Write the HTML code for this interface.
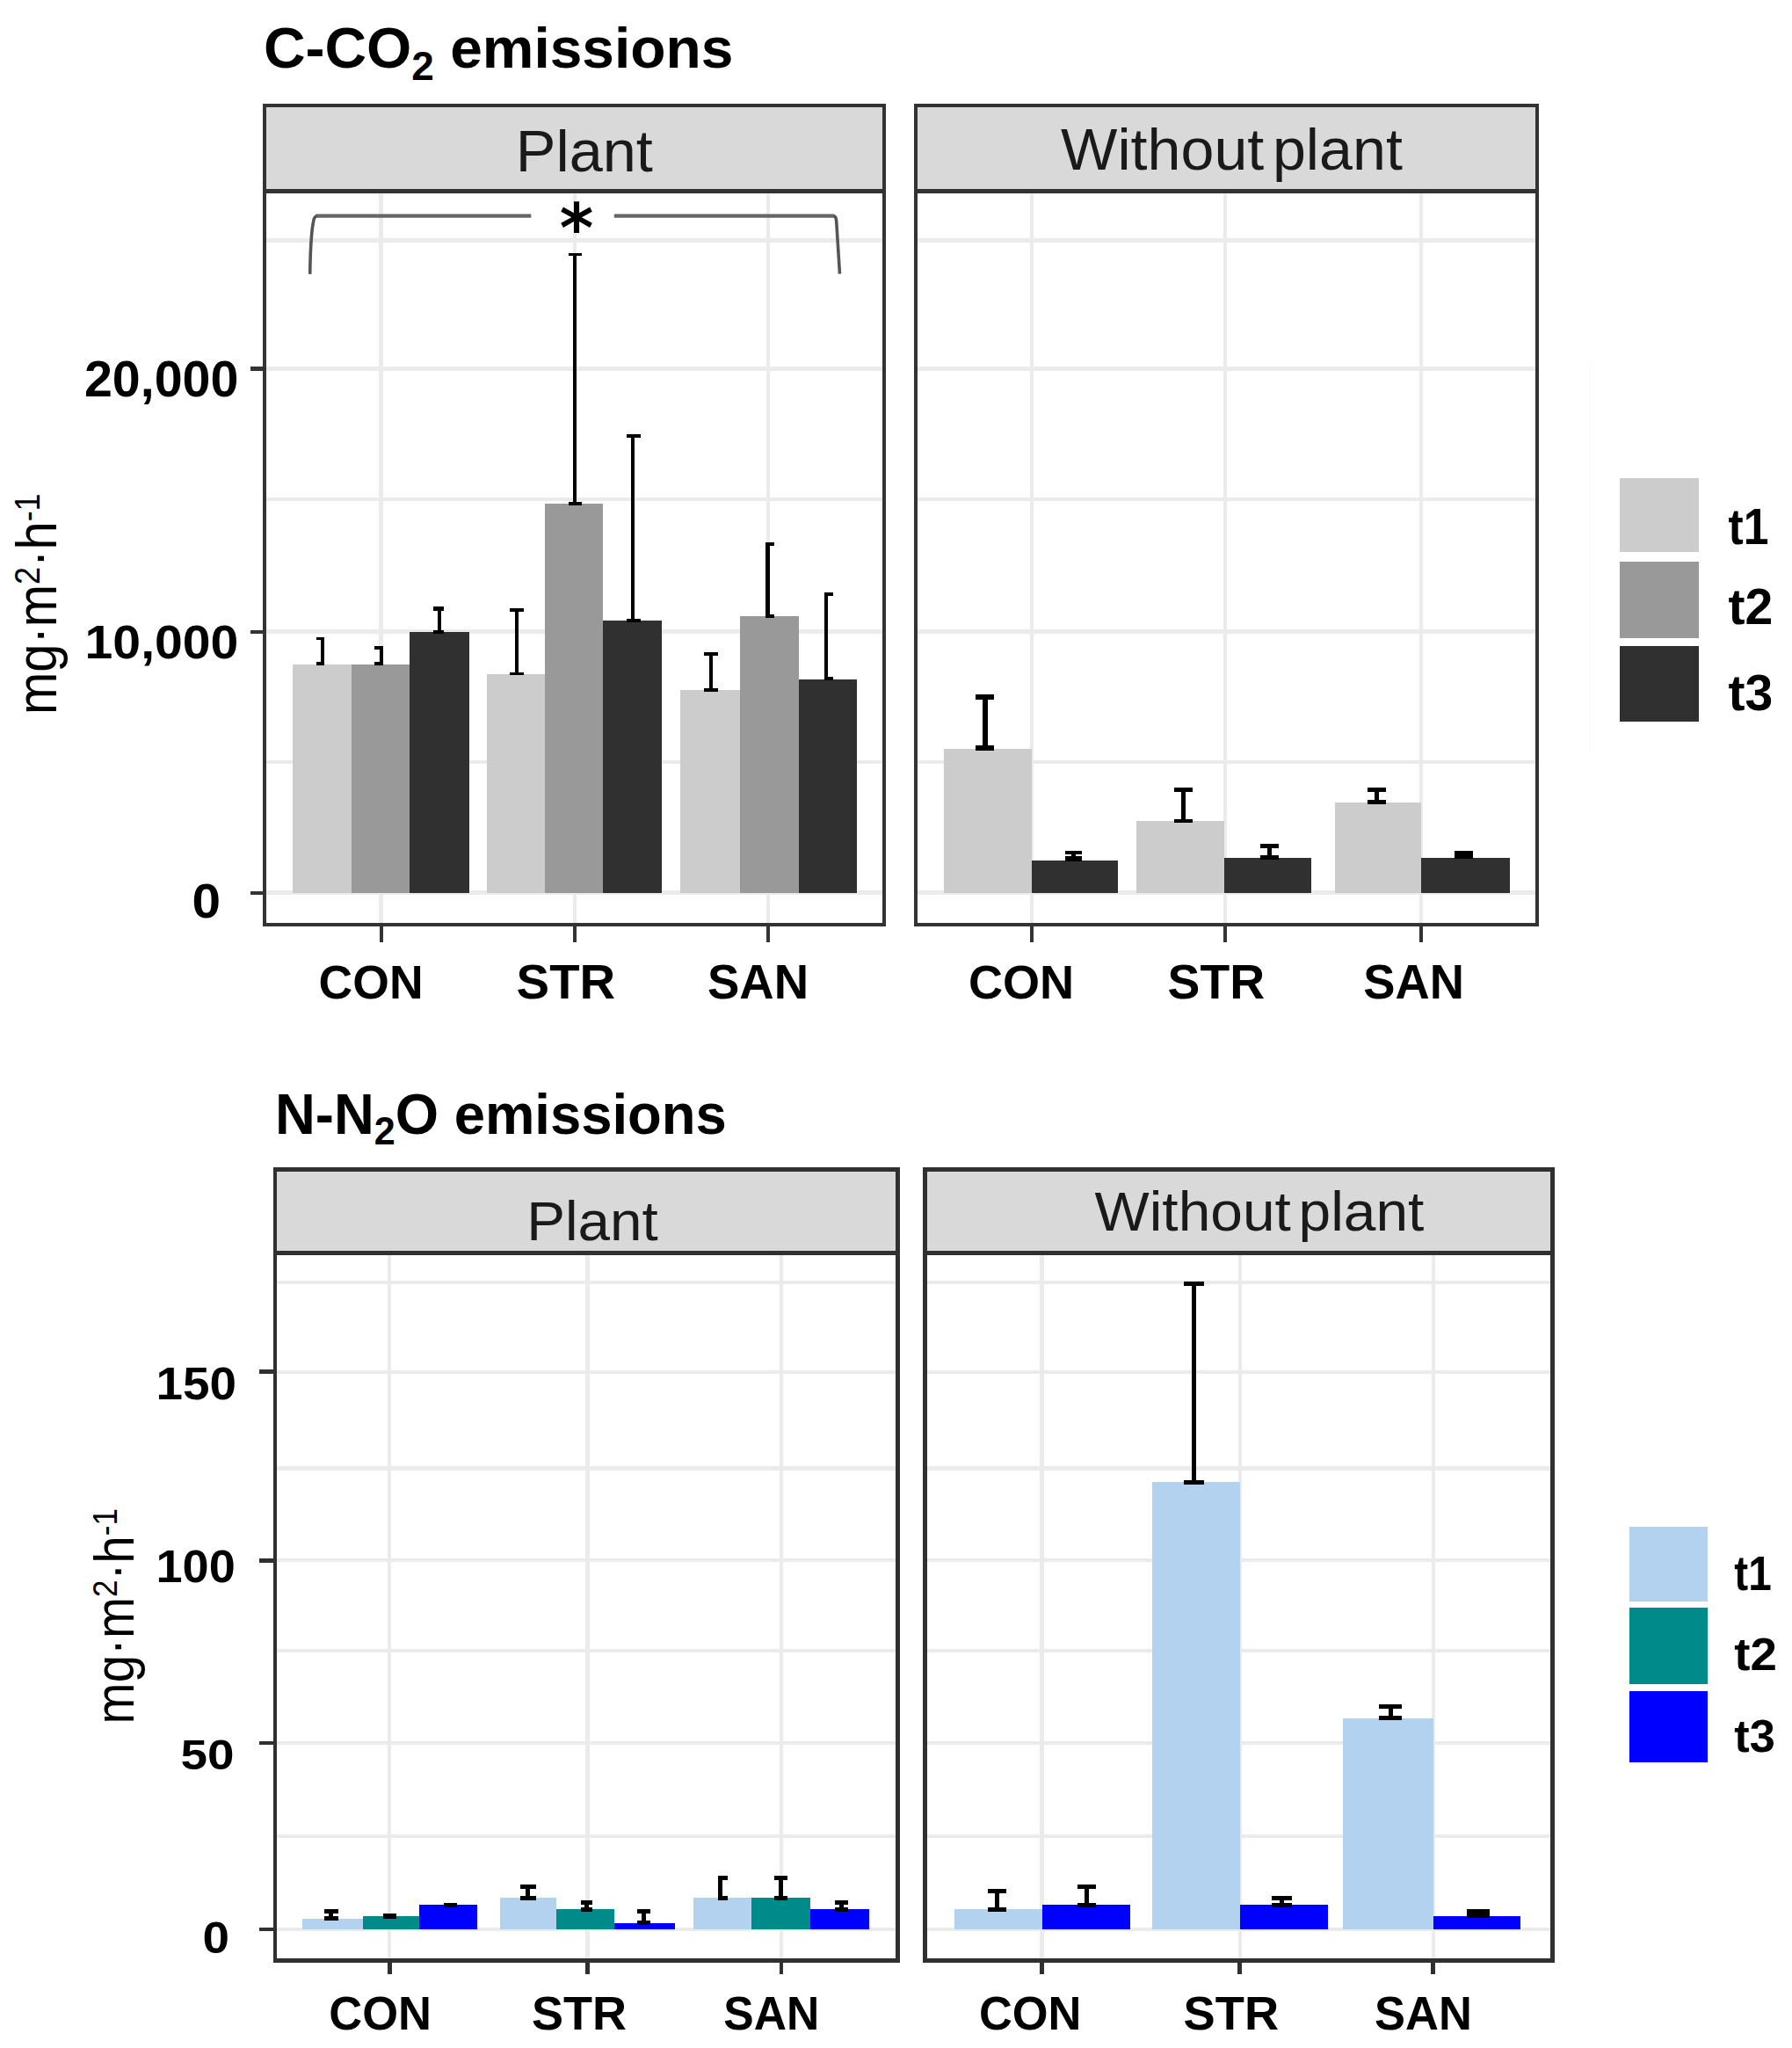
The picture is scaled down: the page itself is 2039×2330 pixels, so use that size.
<!DOCTYPE html>
<html><head><meta charset="utf-8"><title>C-CO2 and N-N2O emissions</title>
<style>
html,body{margin:0;padding:0;background:#fff;}
body{width:2039px;height:2330px;overflow:hidden;}
svg{display:block;}

</style></head>
<body>
<svg width="2039" height="2330" viewBox="0 0 2039 2330" shape-rendering="crispEdges">
<rect x="0" y="0" width="2039" height="2330" fill="#fff"/>
<g id="shapes">
<line x1="301.20" y1="273.60" x2="1006.20" y2="273.60" stroke="#EBEBEB" stroke-width="4.4"/>
<line x1="301.20" y1="419.50" x2="1006.20" y2="419.50" stroke="#EBEBEB" stroke-width="4.4"/>
<line x1="301.20" y1="568.00" x2="1006.20" y2="568.00" stroke="#EBEBEB" stroke-width="4.4"/>
<line x1="301.20" y1="718.50" x2="1006.20" y2="718.50" stroke="#EBEBEB" stroke-width="4.4"/>
<line x1="301.20" y1="867.20" x2="1006.20" y2="867.20" stroke="#EBEBEB" stroke-width="4.4"/>
<line x1="301.20" y1="1015.60" x2="1006.20" y2="1015.60" stroke="#EBEBEB" stroke-width="4.4"/>
<line x1="433.60" y1="217.50" x2="433.60" y2="1051.80" stroke="#EBEBEB" stroke-width="4.4"/>
<line x1="654.00" y1="217.50" x2="654.00" y2="1051.80" stroke="#EBEBEB" stroke-width="4.4"/>
<line x1="874.20" y1="217.50" x2="874.20" y2="1051.80" stroke="#EBEBEB" stroke-width="4.4"/>
<line x1="1042.20" y1="273.60" x2="1749.30" y2="273.60" stroke="#EBEBEB" stroke-width="4.4"/>
<line x1="1042.20" y1="419.50" x2="1749.30" y2="419.50" stroke="#EBEBEB" stroke-width="4.4"/>
<line x1="1042.20" y1="568.00" x2="1749.30" y2="568.00" stroke="#EBEBEB" stroke-width="4.4"/>
<line x1="1042.20" y1="718.50" x2="1749.30" y2="718.50" stroke="#EBEBEB" stroke-width="4.4"/>
<line x1="1042.20" y1="867.20" x2="1749.30" y2="867.20" stroke="#EBEBEB" stroke-width="4.4"/>
<line x1="1042.20" y1="1015.60" x2="1749.30" y2="1015.60" stroke="#EBEBEB" stroke-width="4.4"/>
<line x1="1174.00" y1="217.50" x2="1174.00" y2="1051.80" stroke="#EBEBEB" stroke-width="4.4"/>
<line x1="1394.00" y1="217.50" x2="1394.00" y2="1051.80" stroke="#EBEBEB" stroke-width="4.4"/>
<line x1="1617.20" y1="217.50" x2="1617.20" y2="1051.80" stroke="#EBEBEB" stroke-width="4.4"/>
<rect x="333.40" y="756.30" width="66.20" height="259.30" fill="#CCCCCC"/>
<rect x="399.60" y="756.30" width="66.40" height="259.30" fill="#999999"/>
<rect x="466.00" y="718.80" width="68.00" height="296.80" fill="#303030"/>
<rect x="554.10" y="767.00" width="65.70" height="248.60" fill="#CCCCCC"/>
<rect x="619.80" y="573.20" width="66.20" height="442.40" fill="#999999"/>
<rect x="686.00" y="705.90" width="66.60" height="309.70" fill="#303030"/>
<rect x="773.60" y="785.20" width="68.80" height="230.40" fill="#CCCCCC"/>
<rect x="842.40" y="701.00" width="66.40" height="314.60" fill="#999999"/>
<rect x="908.80" y="772.60" width="66.20" height="243.00" fill="#303030"/>
<rect x="1073.50" y="851.50" width="100.10" height="164.10" fill="#CCCCCC"/>
<rect x="1173.60" y="978.80" width="98.40" height="36.80" fill="#303030"/>
<rect x="1293.30" y="934.10" width="100.10" height="81.50" fill="#CCCCCC"/>
<rect x="1393.40" y="976.20" width="99.00" height="39.40" fill="#303030"/>
<rect x="1518.90" y="913.00" width="97.70" height="102.60" fill="#CCCCCC"/>
<rect x="1616.60" y="976.20" width="101.00" height="39.40" fill="#303030"/>
<rect x="364.80" y="724.60" width="4.00" height="32.00" fill="#000"/><rect x="359.80" y="724.60" width="9.00" height="3.60" fill="#000"/><rect x="359.80" y="752.60" width="9.00" height="4.00" fill="#000"/>
<rect x="431.60" y="734.80" width="4.00" height="21.80" fill="#000"/><rect x="426.20" y="734.80" width="9.40" height="3.80" fill="#000"/><rect x="426.20" y="752.60" width="9.40" height="4.00" fill="#000"/>
<rect x="497.80" y="690.20" width="4.20" height="30.40" fill="#000"/><rect x="492.80" y="690.20" width="11.80" height="4.60" fill="#000"/><rect x="492.80" y="716.80" width="11.80" height="3.80" fill="#000"/>
<rect x="586.00" y="692.40" width="3.80" height="76.00" fill="#000"/><rect x="580.00" y="692.40" width="16.00" height="4.00" fill="#000"/><rect x="580.00" y="764.60" width="16.00" height="3.80" fill="#000"/>
<rect x="651.60" y="287.60" width="4.80" height="287.20" fill="#000"/><rect x="646.60" y="287.60" width="15.80" height="3.80" fill="#000"/><rect x="646.60" y="570.80" width="15.80" height="4.00" fill="#000"/>
<rect x="717.60" y="494.20" width="4.60" height="213.60" fill="#000"/><rect x="712.60" y="494.20" width="16.20" height="3.80" fill="#000"/><rect x="712.60" y="703.80" width="16.20" height="4.00" fill="#000"/>
<rect x="806.60" y="742.00" width="4.40" height="45.00" fill="#000"/><rect x="801.00" y="742.00" width="16.20" height="4.00" fill="#000"/><rect x="801.00" y="783.00" width="16.20" height="4.00" fill="#000"/>
<rect x="871.40" y="617.00" width="4.40" height="86.00" fill="#000"/><rect x="871.40" y="617.00" width="9.80" height="4.20" fill="#000"/><rect x="871.40" y="698.80" width="9.80" height="4.20" fill="#000"/>
<rect x="937.80" y="674.20" width="4.20" height="100.20" fill="#000"/><rect x="937.80" y="674.20" width="9.80" height="3.60" fill="#000"/><rect x="937.80" y="770.40" width="9.80" height="4.00" fill="#000"/>
<rect x="1118.40" y="790.40" width="5.60" height="63.20" fill="#000"/><rect x="1109.80" y="790.40" width="21.60" height="5.20" fill="#000"/><rect x="1109.80" y="848.40" width="21.60" height="5.20" fill="#000"/>
<rect x="1219.00" y="967.80" width="5.00" height="11.80" fill="#000"/><rect x="1211.60" y="967.80" width="19.80" height="3.80" fill="#000"/><rect x="1211.60" y="974.20" width="19.80" height="5.40" fill="#000"/>
<rect x="1344.00" y="896.40" width="5.00" height="39.80" fill="#000"/><rect x="1336.00" y="896.40" width="21.00" height="4.60" fill="#000"/><rect x="1336.00" y="932.00" width="21.00" height="4.20" fill="#000"/>
<rect x="1442.20" y="959.80" width="5.00" height="17.80" fill="#000"/><rect x="1434.20" y="959.80" width="21.00" height="5.00" fill="#000"/><rect x="1434.20" y="973.40" width="21.00" height="4.20" fill="#000"/>
<rect x="1564.20" y="896.20" width="5.00" height="18.80" fill="#000"/><rect x="1556.20" y="896.20" width="20.80" height="5.00" fill="#000"/><rect x="1556.20" y="910.00" width="20.80" height="5.00" fill="#000"/>
<rect x="1662.00" y="968.20" width="6.00" height="8.40" fill="#000"/><rect x="1654.80" y="968.20" width="20.80" height="4.40" fill="#000"/><rect x="1654.80" y="972.40" width="20.80" height="4.20" fill="#000"/>
<g shape-rendering="auto" fill="none" stroke-linejoin="miter"><path d="M359.5,245.6 L604.3,245.6 M698.8,245.6 L949.2,245.6" stroke="#666" stroke-width="4.4"/><path d="M352.7,311.9 C353.1,285 354.6,262 356.6,252 Q357.6,246.2 360.5,245.8" stroke="#555" stroke-width="3.6"/><path d="M948.5,245.8 Q951.2,246.2 951.6,250.5 L955.5,311.6" stroke="#555" stroke-width="3.6"/></g>
<rect x="301.20" y="120.30" width="705.00" height="97.20" fill="#D9D9D9"/>
<rect x="1042.20" y="120.30" width="707.10" height="97.20" fill="#D9D9D9"/>
<rect x="301.2" y="120.3" width="705.00" height="97.20" fill="none" stroke="#333333" stroke-width="4.2"/>
<rect x="301.2" y="217.5" width="705.00" height="834.30" fill="none" stroke="#333333" stroke-width="4.2"/>
<rect x="1042.2" y="120.3" width="707.10" height="97.20" fill="none" stroke="#333333" stroke-width="4.2"/>
<rect x="1042.2" y="217.5" width="707.10" height="834.30" fill="none" stroke="#333333" stroke-width="4.2"/>
<line x1="285.20" y1="419.50" x2="301.20" y2="419.50" stroke="#333333" stroke-width="4.2"/>
<line x1="285.20" y1="718.80" x2="301.20" y2="718.80" stroke="#333333" stroke-width="4.2"/>
<line x1="285.20" y1="1015.60" x2="301.20" y2="1015.60" stroke="#333333" stroke-width="4.2"/>
<line x1="433.60" y1="1051.80" x2="433.60" y2="1071.60" stroke="#333333" stroke-width="4.2"/>
<line x1="654.00" y1="1051.80" x2="654.00" y2="1071.60" stroke="#333333" stroke-width="4.2"/>
<line x1="874.20" y1="1051.80" x2="874.20" y2="1071.60" stroke="#333333" stroke-width="4.2"/>
<line x1="1174.00" y1="1051.80" x2="1174.00" y2="1071.60" stroke="#333333" stroke-width="4.2"/>
<line x1="1394.00" y1="1051.80" x2="1394.00" y2="1071.60" stroke="#333333" stroke-width="4.2"/>
<line x1="1617.20" y1="1051.80" x2="1617.20" y2="1071.60" stroke="#333333" stroke-width="4.2"/>
<line x1="1808.50" y1="414.00" x2="1808.50" y2="854.00" stroke="#F8F8F8" stroke-width="1.5"/>
<rect x="1842.80" y="544.10" width="90.00" height="83.70" fill="#CCCCCC"/>
<rect x="1842.80" y="639.00" width="90.00" height="87.20" fill="#999999"/>
<rect x="1842.80" y="734.70" width="90.00" height="86.00" fill="#303030"/>
<line x1="312.90" y1="1458.70" x2="1021.70" y2="1458.70" stroke="#EBEBEB" stroke-width="4.2"/>
<line x1="312.90" y1="1560.60" x2="1021.70" y2="1560.60" stroke="#EBEBEB" stroke-width="4.2"/>
<line x1="312.90" y1="1670.50" x2="1021.70" y2="1670.50" stroke="#EBEBEB" stroke-width="4.2"/>
<line x1="312.90" y1="1775.20" x2="1021.70" y2="1775.20" stroke="#EBEBEB" stroke-width="4.2"/>
<line x1="312.90" y1="1877.70" x2="1021.70" y2="1877.70" stroke="#EBEBEB" stroke-width="4.2"/>
<line x1="312.90" y1="1983.00" x2="1021.70" y2="1983.00" stroke="#EBEBEB" stroke-width="4.2"/>
<line x1="312.90" y1="2089.30" x2="1021.70" y2="2089.30" stroke="#EBEBEB" stroke-width="4.2"/>
<line x1="312.90" y1="2195.00" x2="1021.70" y2="2195.00" stroke="#EBEBEB" stroke-width="4.2"/>
<line x1="443.30" y1="1425.30" x2="443.30" y2="2230.70" stroke="#EBEBEB" stroke-width="4.2"/>
<line x1="668.40" y1="1425.30" x2="668.40" y2="2230.70" stroke="#EBEBEB" stroke-width="4.2"/>
<line x1="888.80" y1="1425.30" x2="888.80" y2="2230.70" stroke="#EBEBEB" stroke-width="4.2"/>
<line x1="1052.50" y1="1458.70" x2="1766.50" y2="1458.70" stroke="#EBEBEB" stroke-width="4.2"/>
<line x1="1052.50" y1="1560.60" x2="1766.50" y2="1560.60" stroke="#EBEBEB" stroke-width="4.2"/>
<line x1="1052.50" y1="1670.50" x2="1766.50" y2="1670.50" stroke="#EBEBEB" stroke-width="4.2"/>
<line x1="1052.50" y1="1775.20" x2="1766.50" y2="1775.20" stroke="#EBEBEB" stroke-width="4.2"/>
<line x1="1052.50" y1="1877.70" x2="1766.50" y2="1877.70" stroke="#EBEBEB" stroke-width="4.2"/>
<line x1="1052.50" y1="1983.00" x2="1766.50" y2="1983.00" stroke="#EBEBEB" stroke-width="4.2"/>
<line x1="1052.50" y1="2089.30" x2="1766.50" y2="2089.30" stroke="#EBEBEB" stroke-width="4.2"/>
<line x1="1052.50" y1="2195.00" x2="1766.50" y2="2195.00" stroke="#EBEBEB" stroke-width="4.2"/>
<line x1="1185.50" y1="1425.30" x2="1185.50" y2="2230.70" stroke="#EBEBEB" stroke-width="4.2"/>
<line x1="1410.70" y1="1425.30" x2="1410.70" y2="2230.70" stroke="#EBEBEB" stroke-width="4.2"/>
<line x1="1630.70" y1="1425.30" x2="1630.70" y2="2230.70" stroke="#EBEBEB" stroke-width="4.2"/>
<rect x="343.70" y="2182.50" width="68.80" height="12.50" fill="#B3D2EF"/>
<rect x="412.50" y="2180.00" width="64.40" height="15.00" fill="#008B8B"/>
<rect x="476.90" y="2166.90" width="66.40" height="28.10" fill="#0000FF"/>
<rect x="568.90" y="2159.00" width="63.80" height="36.00" fill="#B3D2EF"/>
<rect x="632.70" y="2172.20" width="66.30" height="22.80" fill="#008B8B"/>
<rect x="699.00" y="2187.90" width="69.40" height="7.10" fill="#0000FF"/>
<rect x="788.90" y="2159.20" width="66.00" height="35.80" fill="#B3D2EF"/>
<rect x="854.90" y="2159.20" width="67.20" height="35.80" fill="#008B8B"/>
<rect x="922.10" y="2172.30" width="66.40" height="22.70" fill="#0000FF"/>
<rect x="1085.70" y="2172.00" width="99.80" height="23.00" fill="#B3D2EF"/>
<rect x="1185.50" y="2167.00" width="100.00" height="28.00" fill="#0000FF"/>
<rect x="1311.10" y="1686.30" width="99.70" height="508.70" fill="#B3D2EF"/>
<rect x="1410.80" y="2167.00" width="99.70" height="28.00" fill="#0000FF"/>
<rect x="1528.20" y="1955.20" width="102.60" height="239.80" fill="#B3D2EF"/>
<rect x="1630.80" y="2180.20" width="99.60" height="14.80" fill="#0000FF"/>
<rect x="374.35" y="2172.30" width="5.00" height="12.50" fill="#000"/><rect x="369.00" y="2172.30" width="15.70" height="4.80" fill="#000"/><rect x="369.00" y="2180.00" width="15.70" height="4.80" fill="#000"/>
<rect x="441.00" y="2177.00" width="5.00" height="5.50" fill="#000"/><rect x="436.00" y="2177.00" width="15.00" height="4.80" fill="#000"/><rect x="436.00" y="2177.70" width="15.00" height="4.80" fill="#000"/>
<rect x="510.00" y="2164.50" width="5.00" height="5.30" fill="#000"/><rect x="505.20" y="2164.50" width="14.60" height="4.80" fill="#000"/><rect x="505.20" y="2165.00" width="14.60" height="4.80" fill="#000"/>
<rect x="598.30" y="2143.80" width="5.00" height="18.20" fill="#000"/><rect x="591.70" y="2143.80" width="18.20" height="4.80" fill="#000"/><rect x="591.70" y="2157.20" width="18.20" height="4.80" fill="#000"/>
<rect x="664.90" y="2162.00" width="5.00" height="12.70" fill="#000"/><rect x="661.00" y="2162.00" width="12.80" height="4.80" fill="#000"/><rect x="661.00" y="2169.90" width="12.80" height="4.80" fill="#000"/>
<rect x="730.00" y="2172.30" width="5.00" height="17.50" fill="#000"/><rect x="725.00" y="2172.30" width="15.00" height="4.80" fill="#000"/><rect x="725.00" y="2185.00" width="15.00" height="4.80" fill="#000"/>
<rect x="817.20" y="2134.20" width="5.00" height="27.90" fill="#000"/><rect x="817.20" y="2134.20" width="10.40" height="4.80" fill="#000"/><rect x="817.20" y="2157.30" width="10.40" height="4.80" fill="#000"/>
<rect x="886.20" y="2134.20" width="5.00" height="27.90" fill="#000"/><rect x="881.10" y="2134.20" width="15.20" height="4.80" fill="#000"/><rect x="881.10" y="2157.30" width="15.20" height="4.80" fill="#000"/>
<rect x="955.15" y="2162.10" width="5.00" height="12.70" fill="#000"/><rect x="950.00" y="2162.10" width="15.30" height="4.80" fill="#000"/><rect x="950.00" y="2170.00" width="15.30" height="4.80" fill="#000"/>
<rect x="1132.00" y="2149.20" width="5.00" height="25.70" fill="#000"/><rect x="1124.10" y="2149.20" width="20.80" height="4.80" fill="#000"/><rect x="1124.10" y="2170.10" width="20.80" height="4.80" fill="#000"/>
<rect x="1234.10" y="2144.10" width="5.00" height="25.60" fill="#000"/><rect x="1226.30" y="2144.10" width="20.60" height="4.80" fill="#000"/><rect x="1226.30" y="2164.90" width="20.60" height="4.80" fill="#000"/>
<rect x="1355.95" y="1458.20" width="5.00" height="230.50" fill="#000"/><rect x="1346.90" y="1458.20" width="23.10" height="4.80" fill="#000"/><rect x="1346.90" y="1683.90" width="23.10" height="4.80" fill="#000"/>
<rect x="1455.60" y="2157.30" width="5.00" height="12.30" fill="#000"/><rect x="1446.60" y="2157.30" width="23.00" height="4.80" fill="#000"/><rect x="1446.60" y="2164.80" width="23.00" height="4.80" fill="#000"/>
<rect x="1579.65" y="1939.10" width="5.00" height="18.00" fill="#000"/><rect x="1569.30" y="1939.10" width="25.70" height="4.80" fill="#000"/><rect x="1569.30" y="1952.30" width="25.70" height="4.80" fill="#000"/>
<rect x="1679.45" y="2172.30" width="5.00" height="9.80" fill="#000"/><rect x="1669.30" y="2172.30" width="25.30" height="4.80" fill="#000"/><rect x="1669.30" y="2177.30" width="25.30" height="4.80" fill="#000"/>
<rect x="312.90" y="1330.60" width="708.80" height="94.70" fill="#D9D9D9"/>
<rect x="1052.50" y="1330.60" width="714.00" height="94.70" fill="#D9D9D9"/>
<rect x="312.9" y="1330.6" width="708.80" height="94.70" fill="none" stroke="#303030" stroke-width="4.6"/>
<rect x="312.9" y="1425.3" width="708.80" height="805.40" fill="none" stroke="#303030" stroke-width="4.6"/>
<rect x="1052.5" y="1330.6" width="714.00" height="94.70" fill="none" stroke="#303030" stroke-width="4.6"/>
<rect x="1052.5" y="1425.3" width="714.00" height="805.40" fill="none" stroke="#303030" stroke-width="4.6"/>
<line x1="295.20" y1="1560.60" x2="312.90" y2="1560.60" stroke="#303030" stroke-width="4.6"/>
<line x1="295.20" y1="1775.20" x2="312.90" y2="1775.20" stroke="#303030" stroke-width="4.6"/>
<line x1="295.20" y1="1983.00" x2="312.90" y2="1983.00" stroke="#303030" stroke-width="4.6"/>
<line x1="295.20" y1="2195.00" x2="312.90" y2="2195.00" stroke="#303030" stroke-width="4.6"/>
<line x1="443.30" y1="2230.70" x2="443.30" y2="2246.00" stroke="#303030" stroke-width="4.6"/>
<line x1="668.40" y1="2230.70" x2="668.40" y2="2246.00" stroke="#303030" stroke-width="4.6"/>
<line x1="888.80" y1="2230.70" x2="888.80" y2="2246.00" stroke="#303030" stroke-width="4.6"/>
<line x1="1185.50" y1="2230.70" x2="1185.50" y2="2246.00" stroke="#303030" stroke-width="4.6"/>
<line x1="1410.70" y1="2230.70" x2="1410.70" y2="2246.00" stroke="#303030" stroke-width="4.6"/>
<line x1="1630.70" y1="2230.70" x2="1630.70" y2="2246.00" stroke="#303030" stroke-width="4.6"/>
<rect x="1853.50" y="1737.10" width="89.40" height="84.40" fill="#B3D2EF"/>
<rect x="1853.50" y="1829.30" width="89.40" height="86.50" fill="#008B8B"/>
<rect x="1853.50" y="1924.10" width="89.40" height="81.10" fill="#0000FF"/>
</g>
<g id="texts" shape-rendering="auto">
<text id="title1" class="tx" x="300.00" y="77.45" font-size="65.09" font-weight="bold" fill="#000" textLength="534.40" lengthAdjust="spacingAndGlyphs" style='font-family:"Liberation Sans", Arial, Helvetica, sans-serif'>C-CO<tspan class="sub" dy="13.21" font-size="45.37">2</tspan><tspan dy="-13.21"> emissions</tspan></text>
<text id="title2" class="tx" x="313.00" y="1289.85" font-size="63.95" font-weight="bold" fill="#000" textLength="513.85" lengthAdjust="spacingAndGlyphs" style='font-family:"Liberation Sans", Arial, Helvetica, sans-serif'>N-N<tspan dy="11.96" font-size="43.48">2</tspan><tspan dy="-11.96">O emissions</tspan></text>
<text id="s1p" class="tx" x="586.80" y="194.60" font-size="65.91" font-weight="normal" fill="#1A1A1A" textLength="156.11" lengthAdjust="spacingAndGlyphs" style='font-family:"Liberation Sans", Arial, Helvetica, sans-serif'>Plant</text>
<text id="s1w" class="tx" x="1207.00" y="192.95" font-size="66.02" font-weight="normal" fill="#1A1A1A" word-spacing="-9" textLength="388.87" lengthAdjust="spacingAndGlyphs" style='font-family:"Liberation Sans", Arial, Helvetica, sans-serif'>Without plant</text>
<text id="s2p" class="tx" x="599.20" y="1410.50" font-size="63.60" font-weight="normal" fill="#1A1A1A" textLength="149.45" lengthAdjust="spacingAndGlyphs" style='font-family:"Liberation Sans", Arial, Helvetica, sans-serif'>Plant</text>
<text id="s2w" class="tx" x="1245.60" y="1399.60" font-size="62.17" font-weight="normal" fill="#1A1A1A" word-spacing="-9" textLength="374.73" lengthAdjust="spacingAndGlyphs" style='font-family:"Liberation Sans", Arial, Helvetica, sans-serif'>Without plant</text>
<text id="y20k" class="tx" x="95.90" y="451.30" font-size="56.85" font-weight="bold" fill="#000" textLength="175.58" lengthAdjust="spacingAndGlyphs" style='font-family:"Liberation Sans", Arial, Helvetica, sans-serif'>20,000</text>
<text id="y10k" class="tx" x="96.60" y="749.10" font-size="53.58" font-weight="bold" fill="#000" textLength="174.78" lengthAdjust="spacingAndGlyphs" style='font-family:"Liberation Sans", Arial, Helvetica, sans-serif'>10,000</text>
<text id="y0a" class="tx" x="218.60" y="1043.60" font-size="55.82" font-weight="bold" fill="#000" textLength="32.55" lengthAdjust="spacingAndGlyphs" style='font-family:"Liberation Sans", Arial, Helvetica, sans-serif'>0</text>
<text id="x1c" class="tx" x="362.60" y="1136.10" font-size="54.08" font-weight="bold" fill="#000" textLength="118.98" lengthAdjust="spacingAndGlyphs" style='font-family:"Liberation Sans", Arial, Helvetica, sans-serif'>CON</text>
<text id="x1t" class="tx" x="587.60" y="1136.10" font-size="54.95" font-weight="bold" fill="#000" textLength="112.57" lengthAdjust="spacingAndGlyphs" style='font-family:"Liberation Sans", Arial, Helvetica, sans-serif'>STR</text>
<text id="x1s" class="tx" x="805.00" y="1136.10" font-size="54.95" font-weight="bold" fill="#000" textLength="115.09" lengthAdjust="spacingAndGlyphs" style='font-family:"Liberation Sans", Arial, Helvetica, sans-serif'>SAN</text>
<text id="x2c" class="tx" x="1101.90" y="1136.10" font-size="54.08" font-weight="bold" fill="#000" textLength="120.24" lengthAdjust="spacingAndGlyphs" style='font-family:"Liberation Sans", Arial, Helvetica, sans-serif'>CON</text>
<text id="x2t" class="tx" x="1328.60" y="1136.10" font-size="54.95" font-weight="bold" fill="#000" textLength="110.48" lengthAdjust="spacingAndGlyphs" style='font-family:"Liberation Sans", Arial, Helvetica, sans-serif'>STR</text>
<text id="x2s" class="tx" x="1551.30" y="1136.10" font-size="54.95" font-weight="bold" fill="#000" textLength="114.68" lengthAdjust="spacingAndGlyphs" style='font-family:"Liberation Sans", Arial, Helvetica, sans-serif'>SAN</text>
<text id="yl1" class="tx" x="64.20" y="813.00" font-size="65.70" font-weight="normal" fill="#000" textLength="251.61" lengthAdjust="spacingAndGlyphs" transform="rotate(-90 64.20 813.00)" style='font-family:"Liberation Sans", Arial, Helvetica, sans-serif'>mg·m<tspan dy="-19.05" font-size="40.73">2</tspan><tspan dy="19.05">·h</tspan><tspan dy="-19.05" font-size="40.73">-1</tspan></text>
<text id="yl2" class="tx" x="151.60" y="1961.40" font-size="62.49" font-weight="normal" fill="#000" textLength="245.30" lengthAdjust="spacingAndGlyphs" transform="rotate(-90 151.60 1961.40)" style='font-family:"Liberation Sans", Arial, Helvetica, sans-serif'>mg·m<tspan dy="-18.12" font-size="38.74">2</tspan><tspan dy="18.12">·h</tspan><tspan dy="-18.12" font-size="38.74">-1</tspan></text>
<text id="lg1a" class="tx" x="1966.50" y="618.50" font-size="57.91" font-weight="bold" fill="#000" textLength="46.03" lengthAdjust="spacingAndGlyphs" style='font-family:"Liberation Sans", Arial, Helvetica, sans-serif'>t1</text>
<text id="lg1b" class="tx" x="1966.50" y="709.50" font-size="57.73" font-weight="bold" fill="#000" textLength="50.80" lengthAdjust="spacingAndGlyphs" style='font-family:"Liberation Sans", Arial, Helvetica, sans-serif'>t2</text>
<text id="lg1c" class="tx" x="1966.50" y="808.00" font-size="57.59" font-weight="bold" fill="#000" textLength="50.74" lengthAdjust="spacingAndGlyphs" style='font-family:"Liberation Sans", Arial, Helvetica, sans-serif'>t3</text>
<text id="ast" class="tx" x="636.80" y="285.80" font-size="76.00" font-weight="bold" fill="#000" textLength="38.55" lengthAdjust="spacingAndGlyphs" style='font-family:"DejaVu Sans", sans-serif'>*</text>
<text id="y150" class="tx" x="177.50" y="1592.30" font-size="50.90" font-weight="bold" fill="#000" textLength="91.45" lengthAdjust="spacingAndGlyphs" style='font-family:"Liberation Sans", Arial, Helvetica, sans-serif'>150</text>
<text id="y100" class="tx" x="177.50" y="1800.30" font-size="51.60" font-weight="bold" fill="#000" textLength="90.22" lengthAdjust="spacingAndGlyphs" style='font-family:"Liberation Sans", Arial, Helvetica, sans-serif'>100</text>
<text id="y50" class="tx" x="205.60" y="2012.50" font-size="48.83" font-weight="bold" fill="#000" textLength="60.92" lengthAdjust="spacingAndGlyphs" style='font-family:"Liberation Sans", Arial, Helvetica, sans-serif'>50</text>
<text id="y0b" class="tx" x="230.60" y="2221.50" font-size="50.84" font-weight="bold" fill="#000" textLength="30.49" lengthAdjust="spacingAndGlyphs" style='font-family:"Liberation Sans", Arial, Helvetica, sans-serif'>0</text>
<text id="x3c" class="tx" x="374.30" y="2308.70" font-size="53.07" font-weight="bold" fill="#000" textLength="116.75" lengthAdjust="spacingAndGlyphs" style='font-family:"Liberation Sans", Arial, Helvetica, sans-serif'>CON</text>
<text id="x3t" class="tx" x="605.00" y="2308.70" font-size="53.07" font-weight="bold" fill="#000" textLength="108.08" lengthAdjust="spacingAndGlyphs" style='font-family:"Liberation Sans", Arial, Helvetica, sans-serif'>STR</text>
<text id="x3s" class="tx" x="823.30" y="2308.70" font-size="53.07" font-weight="bold" fill="#000" textLength="109.00" lengthAdjust="spacingAndGlyphs" style='font-family:"Liberation Sans", Arial, Helvetica, sans-serif'>SAN</text>
<text id="x4c" class="tx" x="1113.90" y="2308.70" font-size="53.07" font-weight="bold" fill="#000" textLength="116.55" lengthAdjust="spacingAndGlyphs" style='font-family:"Liberation Sans", Arial, Helvetica, sans-serif'>CON</text>
<text id="x4t" class="tx" x="1346.60" y="2308.70" font-size="53.07" font-weight="bold" fill="#000" textLength="108.52" lengthAdjust="spacingAndGlyphs" style='font-family:"Liberation Sans", Arial, Helvetica, sans-serif'>STR</text>
<text id="x4s" class="tx" x="1564.00" y="2308.70" font-size="53.07" font-weight="bold" fill="#000" textLength="110.87" lengthAdjust="spacingAndGlyphs" style='font-family:"Liberation Sans", Arial, Helvetica, sans-serif'>SAN</text>
<text id="lg2a" class="tx" x="1973.30" y="1808.50" font-size="55.33" font-weight="bold" fill="#000" textLength="42.46" lengthAdjust="spacingAndGlyphs" style='font-family:"Liberation Sans", Arial, Helvetica, sans-serif'>t1</text>
<text id="lg2b" class="tx" x="1973.30" y="1900.20" font-size="51.44" font-weight="bold" fill="#000" textLength="48.65" lengthAdjust="spacingAndGlyphs" style='font-family:"Liberation Sans", Arial, Helvetica, sans-serif'>t2</text>
<text id="lg2c" class="tx" x="1973.30" y="1992.90" font-size="51.94" font-weight="bold" fill="#000" textLength="46.55" lengthAdjust="spacingAndGlyphs" style='font-family:"Liberation Sans", Arial, Helvetica, sans-serif'>t3</text>
</g>
</svg>
</body></html>
